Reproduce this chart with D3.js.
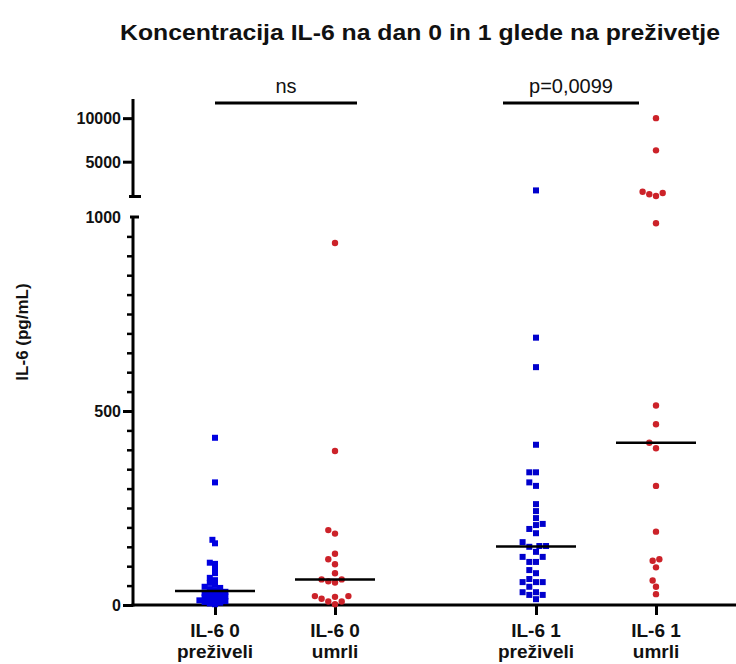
<!DOCTYPE html>
<html>
<head>
<meta charset="utf-8">
<script src="https://cdn.jsdelivr.net/npm/d3@7"></script>
<style>
  html, body { margin: 0; padding: 0; background: #fff; }
  svg { display: block; }
  text { font-family: "Liberation Sans", Arial, sans-serif; fill: #111; }
</style>
</head>
<body>
<svg id="chart" width="736" height="664"></svg>
<script>
// ---------- data ----------
const catLine1 = ["IL-6 0", "IL-6 0", "IL-6 1", "IL-6 1"];
const catLine2 = ["preživeli", "umrli", "preživeli", "umrli"];
const groupColor = ["#0000E0", "#CC2229", "#0000CC", "#CC2229"];
const groupShape = ["square", "circle", "square", "circle"];

const il6Day0Survived = [431, 316, 168, 159, 109, 106, 95, 82, 70, 64, 57, 52, 47, 44, 41, 38,
                         34, 31, 29, 27, 25, 22, 20, 18, 16, 14, 12, 10, 8, 6, 4, 2];
const il6Day0Died = [933, 397, 193, 184, 132, 118, 105, 82, 66, 66, 61, 58, 23, 23, 21, 16, 9, 9, 2];
const il6Day1Survived = [1700, 689, 613, 413, 342, 342, 316, 307, 260, 242, 224, 209, 206, 196, 185, 162,
                         152, 152, 150, 137, 124, 124, 111, 111, 90, 82, 67, 59, 59, 59, 47, 33, 33, 26, 26, 15];
const il6Day1Died = [10000, 6300, 1550, 1400, 1250, 1050, 984, 514, 466, 418, 404, 307, 189, 118, 114, 97, 63, 47, 28];
const groups = [il6Day0Survived, il6Day0Died, il6Day1Survived, il6Day1Died];

const lowTicks = [0, 500, 1000];
const highTicks = [5000, 10000];
const comparisons = [
  { a: 0, b: 1, label: "ns" },
  { a: 2, b: 3, label: "p=0,0099" }
];
const title = "Koncentracija IL-6 na dan 0 in 1 glede na preživetje";
const yTitle = "IL-6 (pg/mL)";

// ---------- layout ----------
const svg = d3.select("#chart");
const axisX = 133, baseY = 605;
const pos = i => i + (i >= 2 ? 0.675 : 0);
const x = d3.scaleLinear().domain([0, 1]).range([215, 335]);
const yLow = d3.scaleLinear().domain([0, 1000]).range([baseY, 217]);
const yHigh = d3.scaleLinear().domain([1000, 12200]).range([196.5, 99]);
const yv = v => v <= 1000 ? yLow(v) : yHigh(v);

function ctext(g, tx, ty, str, size, weight, sx, anchor, rot) {
  return g.append("text")
    .attr("transform", `translate(${tx},${ty})` + (rot ? ` rotate(${rot})` : "") + ` scale(${sx},1)`)
    .attr("text-anchor", anchor)
    .style("font-size", size + "px")
    .style("font-weight", weight)
    .text(str);
}

// title
ctext(svg, 420, 40, title, 22, "bold", 1, "middle")
  .attr("textLength", 600).attr("lengthAdjust", "spacingAndGlyphs");
// y title
ctext(svg, 28, 332, yTitle, 17, "bold", 1, "middle", -90);

// ---------- y axis (broken) ----------
const minor = d3.range(50, 1000, 50).filter(v => v % 500 !== 0);
svg.append("g").attr("transform", `translate(${axisX},0)`)
  .call(d3.axisLeft(yLow).tickValues(minor).tickSize(6).tickFormat(""))
  .call(g => g.select(".domain").remove())
  .selectAll("line").attr("stroke", "#000").attr("stroke-width", 2.5);
svg.append("g").attr("transform", `translate(${axisX},0)`)
  .call(d3.axisLeft(yLow).tickValues(lowTicks.filter(v => v < 1000)).tickSize(10).tickFormat(""))
  .call(g => g.select(".domain").remove())
  .selectAll("line").attr("stroke", "#000").attr("stroke-width", 3);
svg.append("g").attr("transform", `translate(${axisX},0)`)
  .call(d3.axisLeft(yHigh).tickValues(highTicks).tickSize(10).tickFormat(""))
  .call(g => g.select(".domain").remove())
  .selectAll("line").attr("stroke", "#000").attr("stroke-width", 3);

// axis segments
svg.append("line").attr("x1", axisX).attr("x2", axisX)
  .attr("y1", yLow(0) + 1.5).attr("y2", yLow(1000))
  .attr("stroke", "#000").attr("stroke-width", 3);
svg.append("line").attr("x1", axisX).attr("x2", axisX)
  .attr("y1", yHigh(1000)).attr("y2", yHigh(12200))
  .attr("stroke", "#000").attr("stroke-width", 3);
// break caps
svg.append("line").attr("x1", axisX - 4).attr("x2", axisX + 8)
  .attr("y1", yHigh(1000)).attr("y2", yHigh(1000)).attr("stroke", "#000").attr("stroke-width", 3);
svg.append("line").attr("x1", axisX - 3).attr("x2", axisX + 6)
  .attr("y1", yLow(1000)).attr("y2", yLow(1000)).attr("stroke", "#000").attr("stroke-width", 3);

// tick labels
lowTicks.forEach(v => ctext(svg, axisX - 12, yLow(v) + 6, String(v), 16, "bold", 1, "end"));
highTicks.forEach(v => ctext(svg, axisX - 12, yHigh(v) + 6, String(v), 16, "bold", 1, "end"));

// ---------- x axis ----------
svg.append("line").attr("x1", axisX - 1.5).attr("x2", 736)
  .attr("y1", baseY).attr("y2", baseY).attr("stroke", "#000").attr("stroke-width", 3);
const xg = svg.append("g").attr("transform", `translate(0,${baseY})`)
  .call(d3.axisBottom(x).tickValues(catLine1.map((d, i) => pos(i))).tickSize(10).tickFormat(""));
xg.select(".domain").remove();
xg.selectAll("line").attr("stroke", "#000").attr("stroke-width", 3);
catLine1.forEach((t, i) => {
  ctext(svg, x(pos(i)), 637, t, 19, "bold", 1, "middle");
  ctext(svg, x(pos(i)), 658, catLine2[i], 19, "bold", 1, "middle");
});

// ---------- beeswarm points ----------
const step = [2.6, 3.35, 3.35, 3.35], minDist = [4.2, 6.6, 6.6, 6.6];
groups.forEach((vals, gi) => {
  const cx = x(pos(gi));
  const sorted = vals.slice().sort((a, b) => a - b);
  const placed = [];
  sorted.forEach(v => {
    const py = yv(v);
    let off = 0;
    for (let k = 0; k < 60; k++) {
      const o = (k === 0 ? 0 : (k % 2 ? -1 : 1) * Math.ceil(k / 2) * step[gi]);
      const ok = placed.every(p => Math.hypot(p.x - (cx + o), p.y - py) >= minDist[gi]);
      if (ok) { off = o; break; }
    }
    placed.push({ x: cx + off, y: py, v });
  });
  const g = svg.append("g");
  if (groupShape[gi] === "square") {
    g.selectAll("rect").data(placed).join("rect")
      .attr("x", d => d.x - 3).attr("y", d => d.y - 3)
      .attr("width", 6).attr("height", 6).attr("fill", groupColor[gi]);
  } else {
    g.selectAll("circle").data(placed).join("circle")
      .attr("cx", d => d.x).attr("cy", d => d.y).attr("r", 3.2).attr("fill", groupColor[gi]);
  }
  // median
  const med = d3.median(vals);
  svg.append("line").attr("x1", cx - 40).attr("x2", cx + 40)
    .attr("y1", yv(med)).attr("y2", yv(med)).attr("stroke", "#000").attr("stroke-width", 2.5);
});

// ---------- significance ----------
const sigX = [[0, 142], [-33, 103]];
comparisons.forEach((c, i) => {
  const x0 = x(pos(c.a)) + sigX[i][0], x1 = x(pos(c.a)) + sigX[i][1];
  svg.append("line").attr("x1", x0).attr("x2", x1).attr("y1", 103).attr("y2", 103)
    .attr("stroke", "#000").attr("stroke-width", 3);
  ctext(svg, (x0 + x1) / 2, 93, c.label, 20, "normal", 1, "middle");
});
</script>
</body>
</html>
